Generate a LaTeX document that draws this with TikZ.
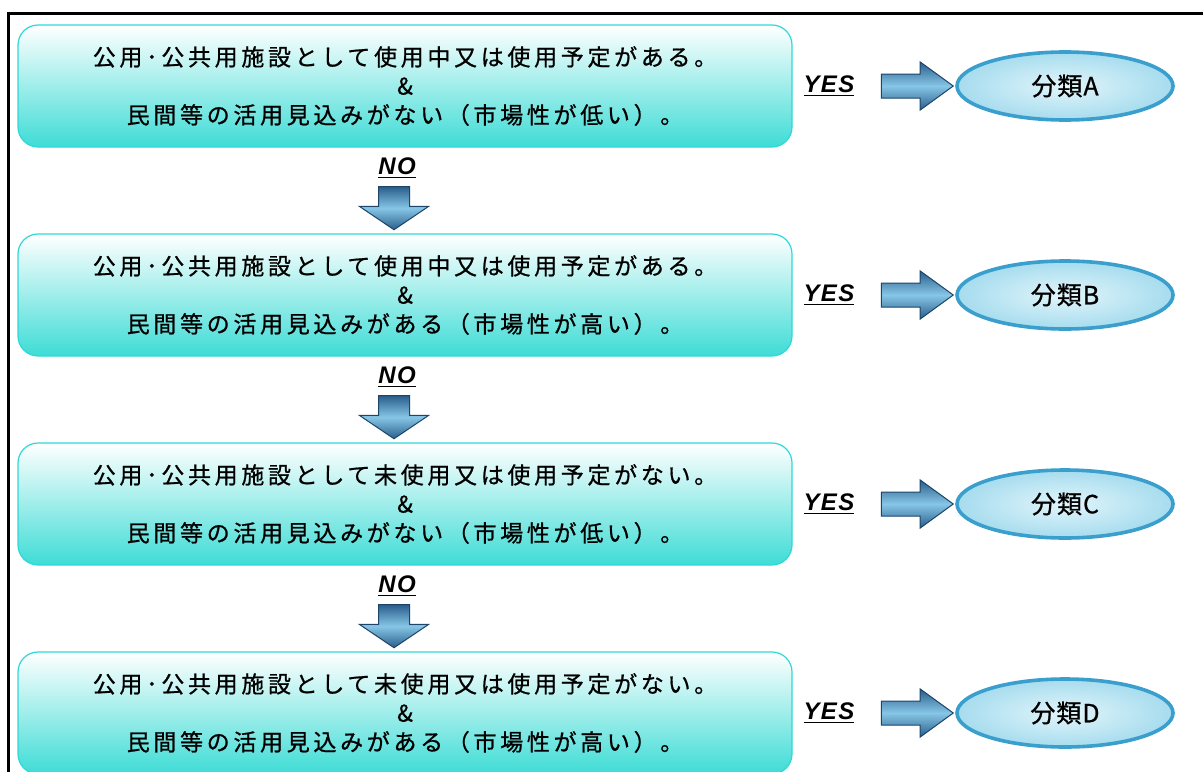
\documentclass[tikz,border=0pt]{standalone}
\usepackage{fontspec}
\setmainfont{Noto Sans CJK JP}[LetterSpace=16,FakeBold=0.8]
\newfontfamily\yesfont{Liberation Sans}[LetterSpace=6]
\usetikzlibrary{shapes.geometric,shapes.arrows,positioning}

\definecolor{turq}{HTML}{3EDCD6}
\definecolor{turqline}{HTML}{2FD8D8}
\definecolor{arrdark}{HTML}{2A5E8C}
\definecolor{arrlight}{HTML}{86C6E6}
\definecolor{arrline}{HTML}{1E4468}
\definecolor{clsin}{HTML}{E2F5FB}
\definecolor{clsedge}{HTML}{A6DCEE}
\definecolor{clsrim}{HTML}{3A9FCC}

\tikzset{
  cond/.style={draw=turqline, line width=0.6pt, rounded corners=10pt,
    top color=white, bottom color=turq, minimum width=387pt, minimum height=61pt,
    align=center, inner sep=0pt, font=\fontsize{11.5}{14.5}\selectfont},
  answer/.style={font=\yesfont\bfseries\itshape\fontsize{12}{14}\selectfont, inner sep=0pt},
  blockarrow/.style={shape=single arrow, draw=arrline, line width=0.5pt,
    top color=arrdark, bottom color=arrdark, middle color=arrlight, inner xsep=0pt},
  rightarrow/.style={blockarrow, minimum height=36pt, inner ysep=5.75pt,
    single arrow head extend=6pt, single arrow tip angle=72},
  downarrow/.style={blockarrow, rotate=-90, minimum height=21.5pt, inner ysep=7.5pt,
    single arrow head extend=9.5pt, single arrow tip angle=112},
  class/.style={ellipse, draw=clsrim, line width=1.8pt, inner color=clsin, outer color=clsedge,
    minimum width=108pt, minimum height=34pt, inner sep=0pt,
    font=\fontsize{12.5}{14}\addfontfeature{LetterSpace=4}\selectfont}
}

\begin{document}
\begin{tikzpicture}[x=0.5pt,y=-0.5pt]
  \useasboundingbox (0,0) rectangle (1203,771);

  % the frame round the chart
  \draw[line width=1.5pt] (8,775) -- (8,13) -- (1205,13);

  % conditions, YES arrows and classes
  \foreach \i/\ta/\tb/\cls in {
    0/{公用･公共用施設として使用中又は使用予定がある。}/{民間等の活用見込みがない（市場性が低い）。}/A,
    1/{公用･公共用施設として使用中又は使用予定がある。}/{民間等の活用見込みがある（市場性が高い）。}/B,
    2/{公用･公共用施設として未使用又は使用予定がない。}/{民間等の活用見込みがない（市場性が低い）。}/C,
    3/{公用･公共用施設として未使用又は使用予定がない。}/{民間等の活用見込みがある（市場性が高い）。}/D}
  {
    \node[cond] (box\cls) at (405,{86+209*\i}) {\ta\\\&\\\tb};
    \node[answer] (yes\cls) at (829,{86+209*\i}) {\underline{YES}};
    \node[rightarrow] (arr\cls) at (909,{86+209*\i}) {};
    \node[class] (class\cls) at (1065,{86+209*\i}) {分類\cls};
  }

  % NO arrows between the conditions
  \foreach \i/\cls in {0/A,1/B,2/C}
  {
    \node[answer] (no\cls) at (397,{168+209*\i}) {\underline{NO}};
    \node[downarrow] (down\cls) at (394,{203+209*\i}) {};
  }
\end{tikzpicture}
\end{document}
